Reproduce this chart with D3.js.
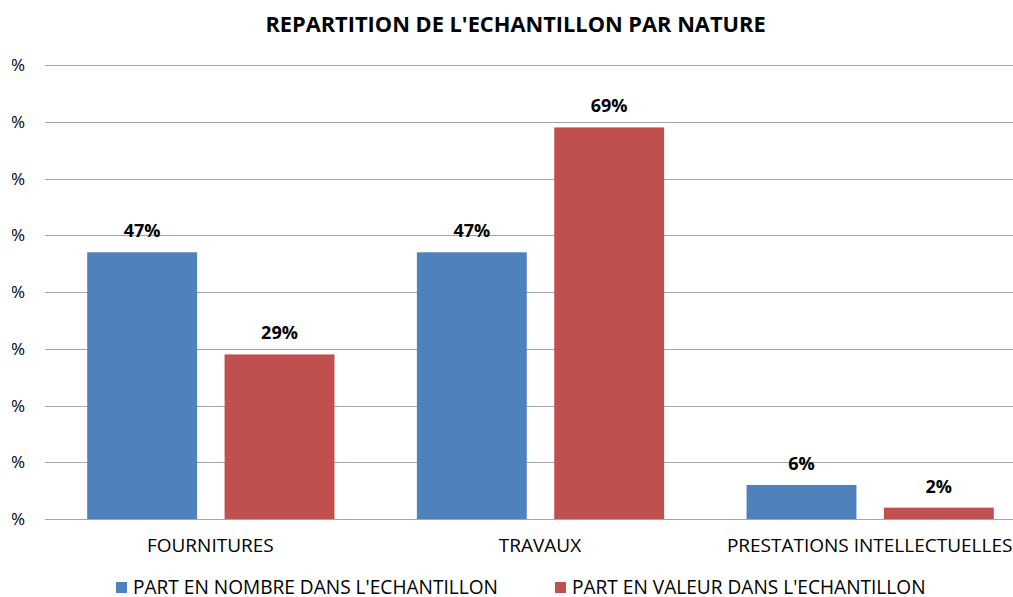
<!DOCTYPE html>
<html><head><meta charset="utf-8">
<script src="https://cdn.jsdelivr.net/npm/d3@7"></script>
<style>body{margin:0;background:#fff;} svg{display:block;} text{font-family:"Open Sans",sans-serif;}</style>
</head><body><svg id="c" width="1013" height="597"></svg>
<script>
const categories = ["FOURNITURES", "TRAVAUX", "PRESTATIONS INTELLECTUELLES"];
const seriesNames = ["PART EN NOMBRE DANS L'ECHANTILLON", "PART EN VALEUR DANS L'ECHANTILLON"];
const nombre = [0.47, 0.47, 0.06];
const valeur = [0.29, 0.69, 0.02];
const colors = ["#4f81bd", "#c0504d"];
const yTicks = [0, 0.1, 0.2, 0.3, 0.4, 0.5, 0.6, 0.7, 0.8];
const title = "REPARTITION DE L'ECHANTILLON PAR NATURE";

const svg = d3.select("#c");
const seriesVals = [nombre, valeur];

const x0 = d3.scaleBand().domain(categories).range([46, 1035]).padding(0);
const x1 = d3.scaleBand().domain([0, 1]).range([0, x0.bandwidth()]).paddingInner(0.2).paddingOuter(0.3);
const y = d3.scaleLinear().domain([0, 0.8]).range([519, 65]);

// clip for the y labels: the reference image is cropped so only the "%" shows
svg.append("defs").append("clipPath").attr("id", "yclip")
  .append("rect").attr("x", 12).attr("y", 0).attr("width", 30).attr("height", 597);

// gridlines
svg.append("g").selectAll("line").data(yTicks).join("line")
  .attr("x1", 45).attr("x2", 1013)
  .attr("y1", d => Math.round(y(d)) + 0.5).attr("y2", d => Math.round(y(d)) + 0.5)
  .attr("stroke", "#a6a6a6").attr("stroke-width", 1.2);

// y labels
svg.append("g").attr("clip-path", "url(#yclip)").selectAll("text").data(yTicks).join("text")
  .attr("x", 25).attr("y", d => y(d) + 6)
  .attr("text-anchor", "end").attr("font-size", 17).attr("fill", "#000")
  .text(d => d3.format(".0%")(d));

// bars
const g = svg.append("g");
categories.forEach((c, i) => {
  [0, 1].forEach(s => {
    const v = seriesVals[s][i];
    g.append("rect")
      .attr("x", x0(c) + x1(s)).attr("width", x1.bandwidth())
      .attr("y", y(v)).attr("height", y(0) - y(v))
      .attr("fill", colors[s]);
    g.append("text")
      .attr("x", x0(c) + x1(s) + x1.bandwidth() / 2)
      .attr("y", y(v) - 15)
      .attr("text-anchor", "middle").attr("font-size", 18).attr("font-weight", "bold")
      .attr("fill", "#000")
      .text(d3.format(".0%")(v));
  });
});

// category labels
svg.append("g").selectAll("text").data(categories).join("text")
  .attr("x", d => x0(d) + x0.bandwidth() / 2 - 0.5)
  .attr("y", 552)
  .attr("text-anchor", "middle").attr("font-size", 19).attr("fill", "#000")
  .text(d => d);

// title
svg.append("text").attr("x", 515.5).attr("y", 32).attr("text-anchor", "middle")
  .attr("font-size", 21.8).attr("font-weight", "bold").attr("fill", "#000").text(title);

// legend
const legX = [116, 555];
const leg = svg.append("g").selectAll("g").data(seriesNames).join("g")
  .attr("transform", (d, i) => `translate(${legX[i]},0)`);
leg.append("rect").attr("x", 0).attr("y", 582).attr("width", 11).attr("height", 11)
  .attr("fill", (d, i) => colors[i]);
leg.append("text").attr("x", 17).attr("y", 594).attr("font-size", 19.1).attr("fill", "#000").text(d => d);
</script></body></html>
